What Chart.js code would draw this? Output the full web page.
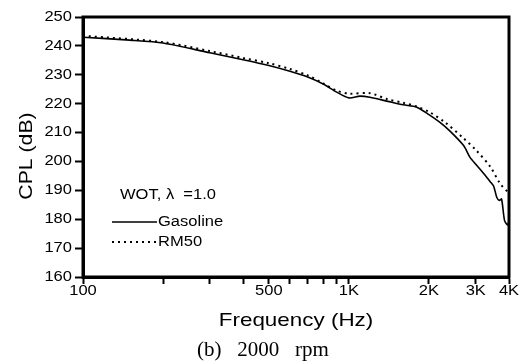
<!DOCTYPE html>
<html>
<head>
<meta charset="utf-8">
<script src="https://cdn.jsdelivr.net/npm/chart.js@4/dist/chart.umd.min.js"></script>
<style>
  html, body { margin: 0; padding: 0; background: #fff; }
  #wrap { width: 523px; height: 363px; position: relative; }
</style>
</head>
<body>
<div id="wrap"><canvas id="cpl"></canvas></div>
<script>
// Frequency (Hz) and CPL (dB)
const gasolineFreq = [100, 150, 200, 300, 400, 500, 600, 700, 800, 900, 1000, 1100, 1200, 1400, 1600, 1800, 2000, 2200, 2400, 2700, 2850, 3000, 3200, 3400, 3500, 3600, 3680, 3750, 3850, 3950, 4000];
const gasolineCpl  = [243, 242, 241, 237.6, 235.2, 233.2, 231.2, 229.2, 226.8, 224, 222, 222.6, 222.2, 220.8, 219.6, 218.8, 216.2, 213.5, 210.5, 205.5, 201.5, 199, 196, 193, 191.5, 187.5, 186.5, 187, 179.5, 178, 179.5];

const rm50Freq = [100, 200, 300, 400, 500, 600, 700, 800, 900, 1000, 1200, 1400, 1600, 1800, 2000, 2300, 2700, 3000, 3400, 3700, 4000];
const rm50Cpl  = [243.5, 241.3, 238.2, 235.8, 234, 232, 229.8, 227, 224.5, 223.5, 223.6, 221.5, 220.3, 219, 217.2, 213.5, 208, 204, 198.2, 192.4, 189];

const xTicks = [100, 200, 300, 400, 500, 600, 700, 800, 900, 1000, 2000, 3000, 4000];
const xTickLabels = { 100: '100', 500: '500', 1000: '1K', 2000: '2K', 3000: '3K', 4000: '4K' };

const toPoints = (xs, ys) => xs.map((x, i) => ({ x: x, y: ys[i] }));

const SANS = 'Arial, "Liberation Sans", sans-serif';
const STRETCH = 1.18; // the source lettering is a wide sans

// text drawn with a horizontal stretch
function wideText(ctx, text, x, y, align, font, angle) {
    ctx.save();
    ctx.font = font;
    ctx.textAlign = align;
    ctx.textBaseline = 'middle';
    ctx.translate(x, y);
    if (angle) ctx.rotate(angle);
    ctx.scale(STRETCH, 1);
    ctx.fillText(text, 0, 0);
    ctx.restore();
}

// frame, tick labels, titles, legend and caption
const decorations = {
    id: 'decorations',
    afterDraw(chart) {
        const ctx = chart.ctx;
        const a = chart.chartArea;
        const xs = chart.scales.x;
        const ys = chart.scales.y;
        ctx.save();
        ctx.strokeStyle = '#000';
        ctx.fillStyle = '#000';
        ctx.lineWidth = 3;
        ctx.strokeRect(a.left, a.top, a.right - a.left, a.bottom - a.top);

        // tick labels
        const tickFont = '14px ' + SANS;
        ys.ticks.forEach(t => {
            wideText(ctx, String(t.value), 72, ys.getPixelForValue(t.value), 'right', tickFont);
        });
        xs.ticks.forEach(t => {
            const lab = xTickLabels[t.value];
            if (lab) wideText(ctx, lab, xs.getPixelForValue(t.value), 291, 'center', tickFont);
        });

        // axis titles
        wideText(ctx, 'Frequency (Hz)', 296, 321, 'center', '19px ' + SANS);
        wideText(ctx, 'CPL (dB)', 27, 156, 'center', '18px ' + SANS, -Math.PI / 2);

        // caption
        ctx.font = '21px "Times New Roman", "Liberation Serif", serif';
        ctx.textAlign = 'left';
        ctx.textBaseline = 'middle';
        ctx.fillText('(b)   2000   rpm', 197, 350);

        // legend
        const legFont = '14px ' + SANS;
        wideText(ctx, 'WOT, \u03bb  =1.0', 120, 195, 'left', legFont);
        wideText(ctx, 'Gasoline', 158, 222, 'left', legFont);
        wideText(ctx, 'RM50', 158, 242, 'left', legFont);

        ctx.lineWidth = 1.5;
        ctx.beginPath();
        ctx.moveTo(112, 222);
        ctx.lineTo(157, 222);
        ctx.stroke();

        ctx.setLineDash([2, 4]);
        ctx.lineWidth = 2;
        ctx.beginPath();
        ctx.moveTo(112, 242);
        ctx.lineTo(157, 242);
        ctx.stroke();
        ctx.restore();
    }
};

new Chart(document.getElementById('cpl'), {
    type: 'line',
    data: {
        datasets: [
            {
                label: 'Gasoline',
                data: toPoints(gasolineFreq, gasolineCpl),
                borderColor: '#000',
                borderWidth: 1.6,
                pointRadius: 0,
                tension: 0.25
            },
            {
                label: 'RM50',
                data: toPoints(rm50Freq, rm50Cpl),
                borderColor: '#000',
                borderWidth: 2,
                borderDash: [2, 4],
                pointRadius: 0,
                tension: 0.3
            }
        ]
    },
    options: {
        responsive: true,
        maintainAspectRatio: false,
        animation: false,
        layout: { padding: { top: 17, right: 14, left: 0, bottom: 0 } },
        plugins: {
            legend: { display: false },
            tooltip: { enabled: false }
        },
        scales: {
            x: {
                type: 'logarithmic',
                min: 100,
                max: 4000,
                afterBuildTicks: (axis) => { axis.ticks = xTicks.map(v => ({ value: v })); },
                afterFit: (axis) => { axis.height = 86; },
                ticks: { display: false, autoSkip: false },
                grid: { drawOnChartArea: false, color: '#000', tickLength: 7, tickWidth: 2 },
                border: { color: '#000', width: 3 }
            },
            y: {
                min: 160,
                max: 250,
                afterFit: (axis) => { axis.width = 83; },
                ticks: { display: false, stepSize: 10 },
                grid: { drawOnChartArea: false, color: '#000', tickLength: 8, tickWidth: 2 },
                border: { color: '#000', width: 3 }
            }
        }
    },
    plugins: [decorations]
});
</script>
</body>
</html>
